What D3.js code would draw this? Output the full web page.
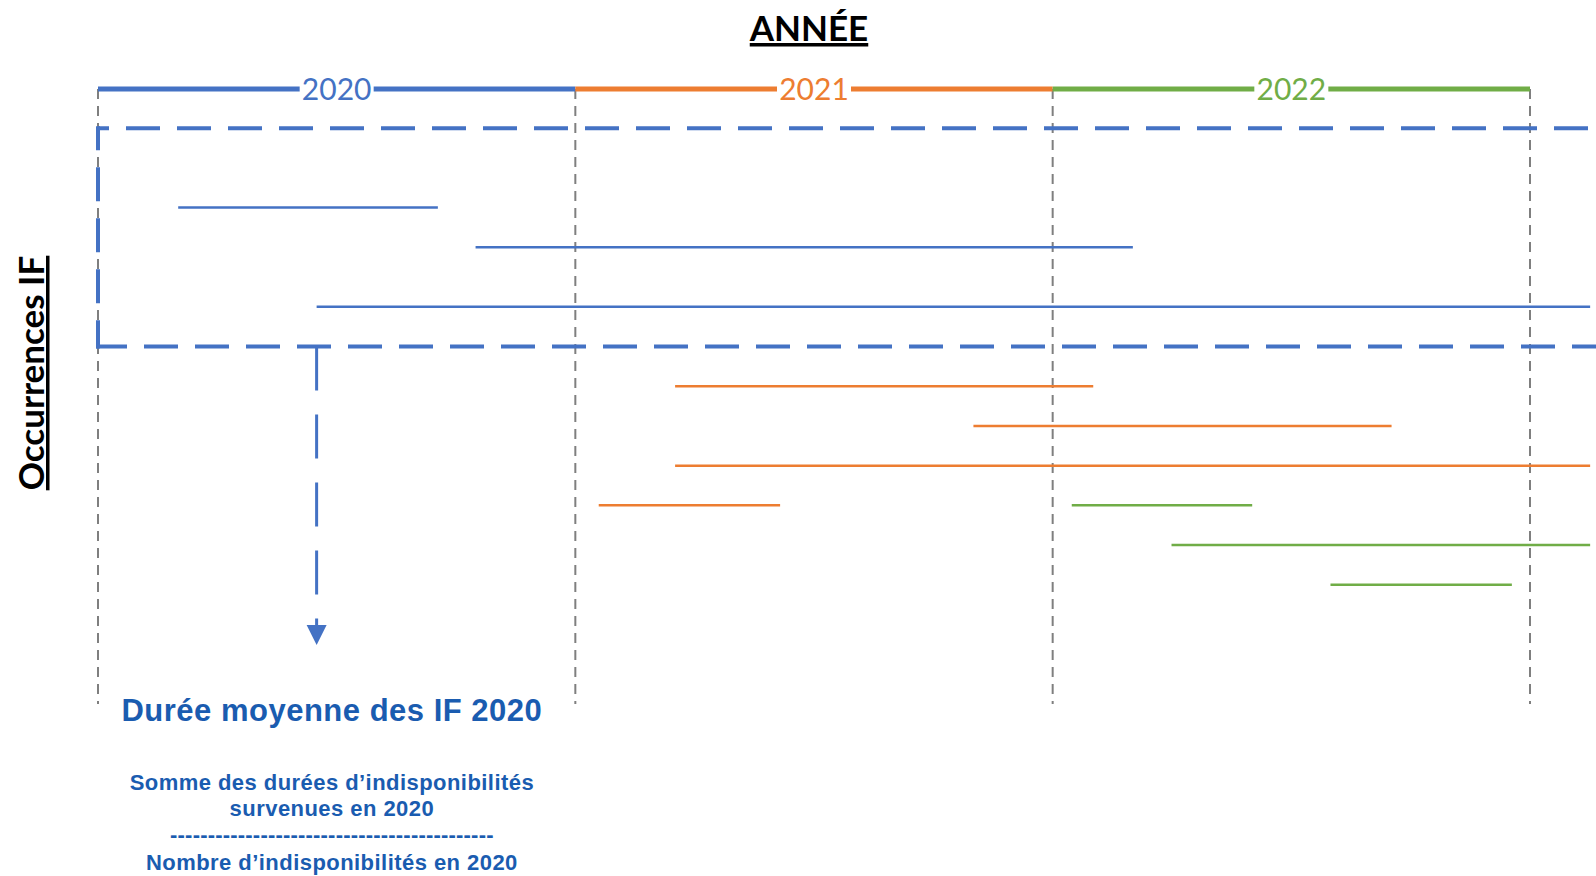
<!DOCTYPE html>
<html>
<head>
<meta charset="utf-8">
<script src="https://cdn.jsdelivr.net/npm/d3@7"></script>
<style>
  body { margin: 0; background: #fff; }
  svg { display: block; }
</style>
</head>
<body>
<svg width="1596" height="876"></svg>
<script>
var svg = d3.select('svg');

// years on the top axis
var years = [2020, 2021, 2022];
var yearColors = ['#4472C4', '#ED7D31', '#70AD47'];

// each IF occurrence: start / end (fractional year), row on the vertical axis, year of occurrence
var starts = [2020.168, 2020.791, 2020.458, 2021.209, 2021.834, 2021.209, 2021.049, 2022.040, 2022.249, 2022.582];
var ends   = [2020.712, 2022.168, 2023.126, 2022.085, 2022.710, 2023.126, 2021.429, 2022.418, 2023.126, 2022.962];
var rows   = [0, 1, 2.5, 4.5, 5.5, 6.5, 7.5, 7.5, 8.5, 9.5];
var occYear = [2020, 2020, 2020, 2021, 2021, 2021, 2021, 2022, 2022, 2022];

var x = d3.scaleLinear().domain([2020, 2023]).range([98, 1530]);
var y = d3.scaleLinear().domain([0, 1]).range([207.6, 247.3]);
var color = d3.scaleOrdinal().domain(years).range(yearColors);

// title
svg.append('text')
    .attr('x', 809)
    .attr('y', 41)
    .attr('text-anchor', 'middle')
    .style('font-family', 'Lato, sans-serif')
    .style('font-weight', 'bold')
    .style('font-size', '35px')
    .style('text-decoration', 'underline')
    .text('ANNÉE');

svg.append('text')
    .attr('transform', 'translate(44,373) rotate(-90)')
    .attr('text-anchor', 'middle')
    .style('font-family', 'Lato, sans-serif')
    .style('font-weight', 'bold')
    .style('font-size', '35px')
    .style('text-decoration', 'underline')
    .text('Occurrences IF');

// grey dashed year boundaries
svg.selectAll('.boundary')
    .data(years.concat([2023]))
    .enter().append('line')
    .attr('class', 'boundary')
    .attr('x1', function(d){ return x(d); })
    .attr('x2', function(d){ return x(d); })
    .attr('y1', 89)
    .attr('y2', 704)
    .style('stroke', '#7f7f7f')
    .style('stroke-width', 2)
    .style('stroke-dasharray', '10,7');

// coloured year bars
svg.selectAll('.yearbar')
    .data(years)
    .enter().append('line')
    .attr('class', 'yearbar')
    .attr('x1', function(d){ return x(d); })
    .attr('x2', function(d){ return x(d + 1); })
    .attr('y1', 89)
    .attr('y2', 89)
    .style('stroke', function(d){ return color(d); })
    .style('stroke-width', 5);

var labels = svg.selectAll('.yearlabel')
    .data(years)
    .enter().append('g')
    .attr('class', 'yearlabel')
    .attr('transform', function(d){ return 'translate(' + x(d + 0.5) + ',89)'; });

labels.append('rect')
    .attr('x', -37)
    .attr('y', -14)
    .attr('width', 74)
    .attr('height', 28)
    .style('fill', '#fff');

labels.append('text')
    .attr('text-anchor', 'middle')
    .attr('dy', '0.35em')
    .style('font-family', 'Lato, sans-serif')
    .style('font-size', '30px')
    .style('fill', function(d){ return color(d); })
    .text(function(d){ return d; });

// occurrence segments
svg.selectAll('.occ')
    .data(d3.range(starts.length))
    .enter().append('line')
    .attr('class', 'occ')
    .attr('x1', function(i){ return x(starts[i]); })
    .attr('x2', function(i){ return x(ends[i]); })
    .attr('y1', function(i){ return y(rows[i]); })
    .attr('y2', function(i){ return y(rows[i]); })
    .style('stroke', function(i){ return color(occYear[i]); })
    .style('stroke-width', 2.5);

// dashed selection of the 2020 occurrences
var boxTop = y(-2), boxBottom = y(3.5), boxLeft = x(2020);
var boxSides = [
    ['M' + boxLeft + ',' + boxTop + 'H1600', 23],
    ['M' + boxLeft + ',' + (boxTop - 2) + 'V' + (boxBottom + 2), 10],
    ['M' + (boxLeft - 2) + ',' + boxBottom + 'H1600', 3]
];
svg.selectAll('.box')
    .data(boxSides)
    .enter().append('path')
    .attr('class', 'box')
    .attr('d', function(d){ return d[0]; })
    .style('fill', 'none')
    .style('stroke', '#4472C4')
    .style('stroke-width', 4)
    .style('stroke-dasharray', '34,17')
    .style('stroke-dashoffset', function(d){ return d[1]; });

// arrow down to the average
var ax = x(2020.458);
svg.append('line')
    .attr('x1', ax)
    .attr('x2', ax)
    .attr('y1', boxBottom)
    .attr('y2', 625)
    .style('stroke', '#4472C4')
    .style('stroke-width', 3)
    .style('stroke-dasharray', '44,24');

svg.append('path')
    .attr('d', 'M' + (ax - 10) + ',625L' + (ax + 10) + ',625L' + ax + ',645Z')
    .style('fill', '#4472C4');

// formula text
var tx = x(2020.49);
svg.append('text')
    .attr('x', tx)
    .attr('y', 721)
    .attr('text-anchor', 'middle')
    .style('font-family', 'Liberation Sans, Arial, sans-serif')
    .style('font-weight', 'bold')
    .style('font-size', '31px')
    .style('letter-spacing', '0.5px')
    .style('fill', '#1A5CB0')
    .text('Durée moyenne des IF 2020');

var formula = [
    ['Somme des durées d\u2019indisponibilités', 790, 0.45],
    ['survenues en 2020', 816, 0.45],
    ['-------------------------------------------', 842, 0.2],
    ['Nombre d\u2019indisponibilités en 2020', 870, 0.45]
];

svg.selectAll('.formula')
    .data(formula)
    .enter().append('text')
    .attr('class', 'formula')
    .attr('x', tx)
    .attr('y', function(d){ return d[1]; })
    .attr('text-anchor', 'middle')
    .style('font-family', 'Liberation Sans, Arial, sans-serif')
    .style('font-weight', 'bold')
    .style('font-size', '22px')
    .style('letter-spacing', function(d){ return d[2] + 'px'; })
    .style('fill', '#1A5CB0')
    .text(function(d){ return d[0]; });
</script>
</body>
</html>
